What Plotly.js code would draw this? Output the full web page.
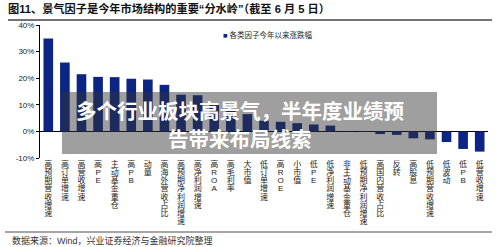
<!DOCTYPE html>
<html>
<head>
<meta charset="utf-8">
<script src="https://cdn.plot.ly/plotly-3.0.1.min.js"></script>
<style>
  html, body { margin: 0; padding: 0; background: #fff; }
  #chart { width: 500px; height: 247px; }
</style>
</head>
<body>
<div id="chart"></div>
<script>
const categories = [
  "高预期营收增速", "高订单增速", "高营收增速", "高PE", "主动基金重仓", "高PB", "动量",
  "高海外营收占比", "高预期净利润增速", "高净利润增速", "高ROA", "高毛利率", "大市值",
  "低订单增速", "高ROE", "小市值", "低PE", "低净利润增速", "非主动基金重仓",
  "低预期净利润增速", "高国内营收占比", "反转", "高股息", "低预期营收增速", "低波动",
  "低PB", "低营收增速"
];
const changePct = [
  34.9, 25.9, 21.5, 20.5, 20.4, 19.8, 19.5,
  17.5, 13.8, 13.6, 9.9, 8.0, 6.5,
  4.0, 3.6, 3.1, 2.6, 2.2, -0.1,
  -0.2, -1.0, -1.3, -2.6, -3.0, -4.0,
  -6.6, -7.6
];
const yTickVals = [-10, 0, 10, 20, 30, 40];
const seriesName = "各类因子今年以来涨跌幅";
const titleText = "图11、景气因子是今年市场结构的重要“分水岭”（截至 6 月 5 日）";
const sourceText = "数据来源：Wind，兴业证券经济与金融研究院整理";
const bannerLines = ["多个行业板块高景气，半年度业绩预", "告带来布局线索"];

const barColor = "#0c2483";
const FONT = "Liberation Sans, Arial, 'Noto Sans CJK SC', sans-serif";

const stacked = categories.map(c => Array.from(c).join("<br>"));

const trace = {
  type: "bar",
  x: categories,
  y: changePct,
  name: seriesName,
  marker: { color: barColor },
  hoverinfo: "none",
  showlegend: false
};

const layout = {
  width: 500,
  height: 247,
  margin: { l: 40, r: 12, t: 25, b: 89 },
  paper_bgcolor: "#fff",
  plot_bgcolor: "#fff",
  font: { family: FONT, color: "#222", size: 8 },
  bargap: 0.42,
  title: {
    text: "<b>" + titleText + "</b>",
    font: { family: FONT, size: 11.2, color: "#111" },
    x: 8 / 500, xanchor: "left", xref: "container",
    y: 1 - 9 / 247, yanchor: "middle", yref: "container"
  },
  xaxis: {
    type: "category",
    tickvals: categories,
    ticktext: stacked,
    tickangle: 0,
    showline: false,
    showgrid: false,
    zeroline: false,
    ticks: "",
    tickfont: { family: FONT, size: 8, color: "#222" },
    automargin: false,
    fixedrange: true
  },
  yaxis: {
    range: [-10, 40],
    tickvals: yTickVals,
    ticktext: yTickVals.map(v => v + "%"),
    showline: true,
    linecolor: "#000",
    linewidth: 1,
    ticks: "outside",
    ticklen: 3,
    tickcolor: "#000",
    showgrid: false,
    zeroline: true,
    zerolinecolor: "#000",
    zerolinewidth: 1,
    tickfont: { family: FONT, size: 8, color: "#222" },
    automargin: false,
    fixedrange: true
  },
  shapes: [
    { type: "line", xref: "paper", yref: "paper",
      x0: -32 / 448, x1: 452 / 448, y0: (158 - 20) / 133, y1: (158 - 20) / 133,
      line: { color: "#444", width: 1.5 } },
    { type: "line", xref: "paper", yref: "paper",
      x0: -35 / 448, x1: 452 / 448, y0: (158 - 232) / 133, y1: (158 - 232) / 133,
      line: { color: "#888", width: 1.5 } },
    { type: "rect", xref: "paper", yref: "paper", layer: "above",
      x0: 22 / 448, x1: 397 / 448, y0: (158 - 154) / 133, y1: (158 - 92) / 133,
      fillcolor: "rgba(50,50,50,0.47)", line: { width: 0 } }
  ],
  annotations: [
    { xref: "paper", yref: "paper", x: 181 / 448, y: (158 - 35) / 133,
      xanchor: "left", yanchor: "middle", showarrow: false,
      text: '<span style="color:' + barColor + '">■</span> ' + seriesName,
      font: { family: FONT, size: 7.5, color: "#222" } },
    { xref: "paper", yref: "paper", x: -30 / 448, y: (158 - 240) / 133,
      xanchor: "left", yanchor: "middle", showarrow: false,
      text: sourceText,
      font: { family: FONT, size: 9, color: "#333" } },
    { xref: "paper", yref: "paper", x: 200 / 448, y: (158 - 110) / 133,
      xanchor: "center", yanchor: "middle", showarrow: false,
      text: "<b>" + bannerLines[0] + "</b>",
      font: { family: "'Noto Sans CJK SC', sans-serif", size: 20.5, color: "#fff" } },
    { xref: "paper", yref: "paper", x: 200 / 448, y: (158 - 138) / 133,
      xanchor: "center", yanchor: "middle", showarrow: false,
      text: "<b>" + bannerLines[1] + "</b>",
      font: { family: "'Noto Sans CJK SC', sans-serif", size: 20.5, color: "#fff" } }
  ]
};

Plotly.newPlot("chart", [trace], layout, { staticPlot: true, displayModeBar: false }).then(gd => {
  // tighten the stacked (vertical) category label line spacing
  const k = 1.02 / 1.3;
  gd.querySelectorAll(".xtick text tspan.line").forEach(t => {
    const dy = parseFloat(t.getAttribute("dy"));
    if (!isNaN(dy)) t.setAttribute("dy", (dy * k).toFixed(3) + "em");
  });
});
</script>
</body>
</html>
